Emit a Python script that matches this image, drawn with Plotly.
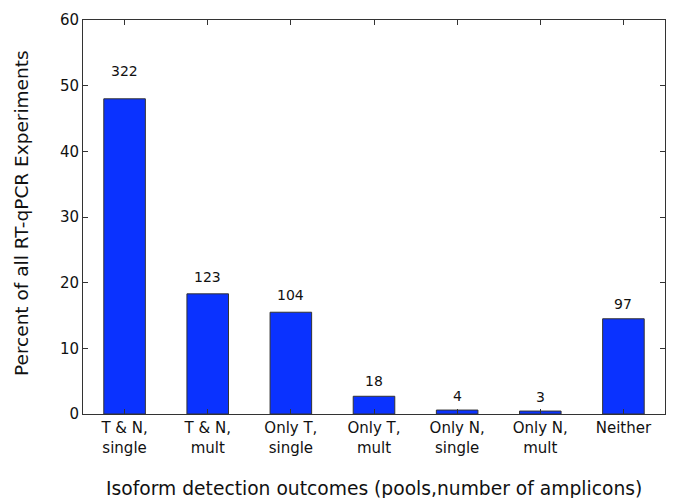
import plotly.graph_objects as go

categories = ["T & N,<br>single", "T & N,<br>mult", "Only T,<br>single", "Only T,<br>mult",
              "Only N,<br>single", "Only N,<br>mult", "Neither"]
percent = [48.0, 18.3, 15.5, 2.7, 0.6, 0.45, 14.5]
counts = ["322", "123", "104", "18", "4", "3", "97"]
yticks = [0, 10, 20, 30, 40, 50, 60]

label_shift = [18, 7, 7, 5, 4, 4, 5]

xpos = list(range(len(categories)))

fig = go.Figure()
fig.add_trace(go.Bar(
    x=xpos, y=percent, width=0.5,
    marker=dict(color="#0a32ff", line=dict(color="#333333", width=1)),
    hoverinfo="skip",
))

for i, (v, c) in enumerate(zip(percent, counts)):
    fig.add_annotation(x=xpos[i], y=v, text=c, showarrow=False,
                       yanchor="bottom", yshift=label_shift[i],
                       font=dict(size=14, color="#111111"))

# page body has an 8px default margin; size the figure to land on the target pixels
OFF = 8
W, H = 674 - OFF, 498 - OFF
L, R, T, B = 83 - OFF, 9, 20 - OFF, 84
pw, ph = W - L - R, H - T - B

fig.add_annotation(xref="paper", yref="paper", x=(373.5 - 83) / pw, y=-(488 - 414) / ph,
                   xanchor="center", yanchor="middle", showarrow=False,
                   text="Isoform detection outcomes (pools,number of amplicons)",
                   font=dict(size=18.7, color="#111111"))
fig.add_annotation(xref="paper", yref="paper", x=-(83 - 21) / pw, y=0.5 + (217 - 213) / ph,
                   xanchor="center", yanchor="middle", showarrow=False, textangle=-90,
                   text="Percent of all RT-qPCR Experiments",
                   font=dict(size=18.5, color="#111111"))

font = "DejaVu Sans, sans-serif"
fig.update_layout(
    width=W, height=H,
    margin=dict(l=L, r=R, t=T, b=B),
    paper_bgcolor="white", plot_bgcolor="white",
    font=dict(family=font, size=15, color="#111111"),
    showlegend=False,
    xaxis=dict(
        range=[-0.5, 6.5], tickmode="array", tickvals=xpos, ticktext=categories,
        ticks="inside", ticklen=5, tickcolor="#333333", mirror="ticks",
        showline=True, linecolor="#333333", linewidth=1, showgrid=False, zeroline=False,
        automargin=False,
    ),
    yaxis=dict(
        range=[0, 60], tickmode="array", tickvals=yticks,
        ticks="inside", ticklen=5, tickcolor="#333333", mirror="ticks",
        showline=True, linecolor="#333333", linewidth=1, showgrid=False, zeroline=False,
        automargin=False,
    ),
)

fig.write_html("out.html")
